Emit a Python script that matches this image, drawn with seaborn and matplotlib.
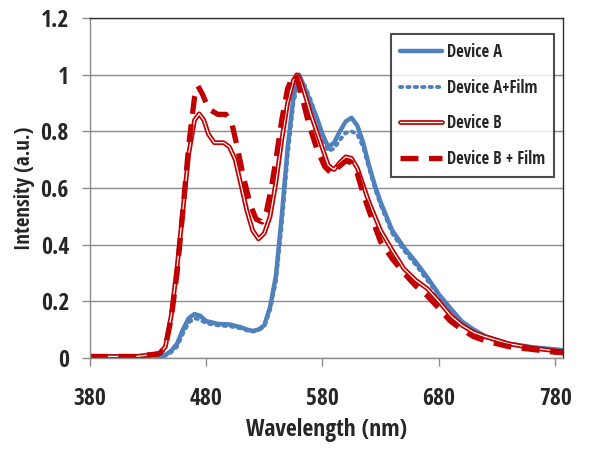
import matplotlib
matplotlib.use("Agg")
import matplotlib.pyplot as plt
import matplotlib.patheffects as pe
from matplotlib import font_manager
import seaborn as sns

# ---- data ----
wl_a = [380, 420, 440, 445, 450, 455, 460, 465, 470, 475, 480, 490, 500, 510, 515, 520, 525, 530, 535, 540,
        545, 550, 555, 560, 565, 570, 575, 580, 585, 590, 595, 600, 605, 610, 615, 620, 625, 630, 640, 650,
        660, 670, 680, 690, 700, 710, 720, 740, 760, 780, 787]
int_a = [0.0, 0.0, 0.005, 0.01, 0.025, 0.05, 0.10, 0.14, 0.155, 0.148, 0.13, 0.12, 0.118, 0.108, 0.10, 0.095,
         0.10, 0.115, 0.18, 0.29, 0.50, 0.74, 0.92, 1.0, 0.95, 0.90, 0.85, 0.79, 0.745, 0.76, 0.80, 0.835,
         0.848, 0.82, 0.76, 0.68, 0.61, 0.55, 0.45, 0.39, 0.34, 0.285, 0.225, 0.175, 0.128, 0.10, 0.076,
         0.05, 0.038, 0.03, 0.027]

wl_af = wl_a
int_af = [0.0, 0.0, 0.004, 0.008, 0.02, 0.04, 0.085, 0.125, 0.14, 0.135, 0.122, 0.115, 0.112, 0.104, 0.097,
          0.093, 0.098, 0.11, 0.17, 0.27, 0.47, 0.71, 0.90, 0.99, 0.96, 0.91, 0.85, 0.78, 0.73, 0.74, 0.77,
          0.795, 0.80, 0.79, 0.745, 0.67, 0.60, 0.54, 0.44, 0.38, 0.33, 0.275, 0.22, 0.17, 0.125, 0.097,
          0.073, 0.048, 0.036, 0.028, 0.025]

wl_b = [380, 420, 440, 445, 450, 455, 460, 465, 470, 474, 478, 482, 487, 495, 500, 505, 510, 515, 520, 525,
        530, 535, 540, 545, 550, 555, 558, 560, 565, 570, 575, 580, 585, 590, 595, 600, 605, 610, 615, 620,
        630, 640, 650, 660, 670, 680, 690, 700, 710, 720, 740, 760, 780, 787]
int_b = [0.005, 0.005, 0.015, 0.04, 0.15, 0.32, 0.52, 0.72, 0.84, 0.862, 0.84, 0.79, 0.76, 0.76, 0.745, 0.70,
         0.61, 0.52, 0.45, 0.42, 0.44, 0.50, 0.62, 0.77, 0.90, 0.98, 1.0, 0.99, 0.93, 0.86, 0.80, 0.74, 0.68,
         0.665, 0.69, 0.71, 0.705, 0.67, 0.61, 0.55, 0.45, 0.38, 0.315, 0.275, 0.245, 0.20, 0.15, 0.115, 0.09,
         0.075, 0.05, 0.035, 0.025, 0.022]

wl_bf = [380, 420, 440, 445, 450, 455, 460, 465, 470, 473, 477, 482, 490, 497, 502, 507, 512, 518, 523, 528,
         532, 536, 540, 545, 550, 555, 558, 562, 568, 575, 582, 588, 594, 600, 605, 610, 615, 620, 630, 640,
         650, 660, 670, 680, 690, 700, 710, 720, 740, 760, 780, 787]
int_bf = [0.005, 0.005, 0.015, 0.04, 0.14, 0.30, 0.52, 0.75, 0.92, 0.96, 0.93, 0.88, 0.86, 0.86, 0.83, 0.74,
          0.64, 0.54, 0.49, 0.48, 0.52, 0.60, 0.70, 0.84, 0.95, 1.0, 0.99, 0.93, 0.83, 0.74, 0.675, 0.65, 0.675,
          0.695, 0.69, 0.65, 0.58, 0.52, 0.41, 0.35, 0.30, 0.255, 0.22, 0.175, 0.13, 0.10, 0.075, 0.06, 0.04,
          0.03, 0.02, 0.018]

labels = ["Device A", "Device A+Film", "Device B", "Device B + Film"]
x_ticks = [380, 480, 580, 680, 780]
y_ticks = [0, 0.2, 0.4, 0.6, 0.8, 1.0, 1.2]
y_tick_labels = ["0", "0.2", "0.4", "0.6", "0.8", "1", "1.2"]

BLUE = "#4F81BD"
RED = "#C00000"

sns.set_theme(style="white")

# pick a condensed font if one is installed
installed = {f.name for f in font_manager.fontManager.ttflist}
cands = [n for n in ["Liberation Sans Narrow", "Noto Sans Condensed", "DejaVu Sans Condensed",
                     "Open Sans Condensed", "Roboto Condensed"] if n in installed]
narrow = cands[0] if cands else None
cond_stretch = [f for f in font_manager.fontManager.ttflist
                if f.name in ("DejaVu Sans", "Noto Sans", "Open Sans") and f.stretch in ("condensed", "semi-condensed")]
if narrow:
    fam = [narrow, "DejaVu Sans"]
    stretch = "normal"
elif cond_stretch:
    fam = [cond_stretch[0].name]
    stretch = cond_stretch[0].stretch
else:
    fam = ["Liberation Sans", "DejaVu Sans"]
    stretch = "normal"
plt.rcParams["font.family"] = fam
plt.rcParams["font.stretch"] = stretch

fig = plt.figure(figsize=(5.91, 4.53), dpi=100)
ax = fig.add_axes([0.152, 0.21, 0.801, 0.75])

sns.lineplot(x=wl_a, y=int_a, ax=ax, color=BLUE, lw=3.2, label=labels[0])
sns.lineplot(x=wl_af, y=int_af, ax=ax, color=BLUE, lw=2.8, label=labels[1],
             linestyle=(0, (0.6, 1.3)), dash_capstyle="round")
lb = sns.lineplot(x=wl_b, y=int_b, ax=ax, color="white", lw=0.9, label=labels[2])
lb.lines[-1].set_path_effects([pe.Stroke(linewidth=3.4, foreground=RED), pe.Normal()])
sns.lineplot(x=wl_bf, y=int_bf, ax=ax, color=RED, lw=3.8, label=labels[3],
             linestyle=(0, (3.4, 2.0)))

ax.set_xlim(380, 787)
ax.set_ylim(0, 1.2)
ax.set_xticks(x_ticks)
ax.set_xticklabels([str(t) for t in x_ticks])
ax.set_yticks(y_ticks)
ax.set_yticklabels(y_tick_labels)
ax.yaxis.grid(True, color="#8c8c8c", lw=1.0)
ax.xaxis.grid(False)
ax.set_axisbelow(True)

for side in ["left", "bottom"]:
    ax.spines[side].set_color("#8c8c8c")
    ax.spines[side].set_linewidth(1.0)
for side in ["right", "top"]:
    ax.spines[side].set_color("#303030")
    ax.spines[side].set_linewidth(1.0)

ax.tick_params(axis="both", which="major", direction="out", length=6, width=1.0,
               color="#8c8c8c", labelsize=17)
ax.tick_params(axis="x", bottom=True, pad=15)
ax.tick_params(axis="y", left=True, pad=9)
for t in ax.get_xticklabels() + ax.get_yticklabels():
    t.set_fontweight("bold")

ax.set_xlabel("Wavelength (nm)", fontsize=17, fontweight="bold", labelpad=5)
ax.set_ylabel("Intensity (a.u.)", fontsize=15, fontweight="bold", labelpad=4)

leg = ax.legend(loc="upper right", bbox_to_anchor=(0.981, 0.953), borderaxespad=0,
                frameon=True, fancybox=False, handlelength=2.5, labelspacing=1.05,
                handletextpad=0.3, borderpad=0.55, prop={"size": 12, "weight": "bold"})
leg.get_frame().set_edgecolor("#202020")
leg.get_frame().set_linewidth(1.5)

fig.savefig("out.png", dpi=100)
